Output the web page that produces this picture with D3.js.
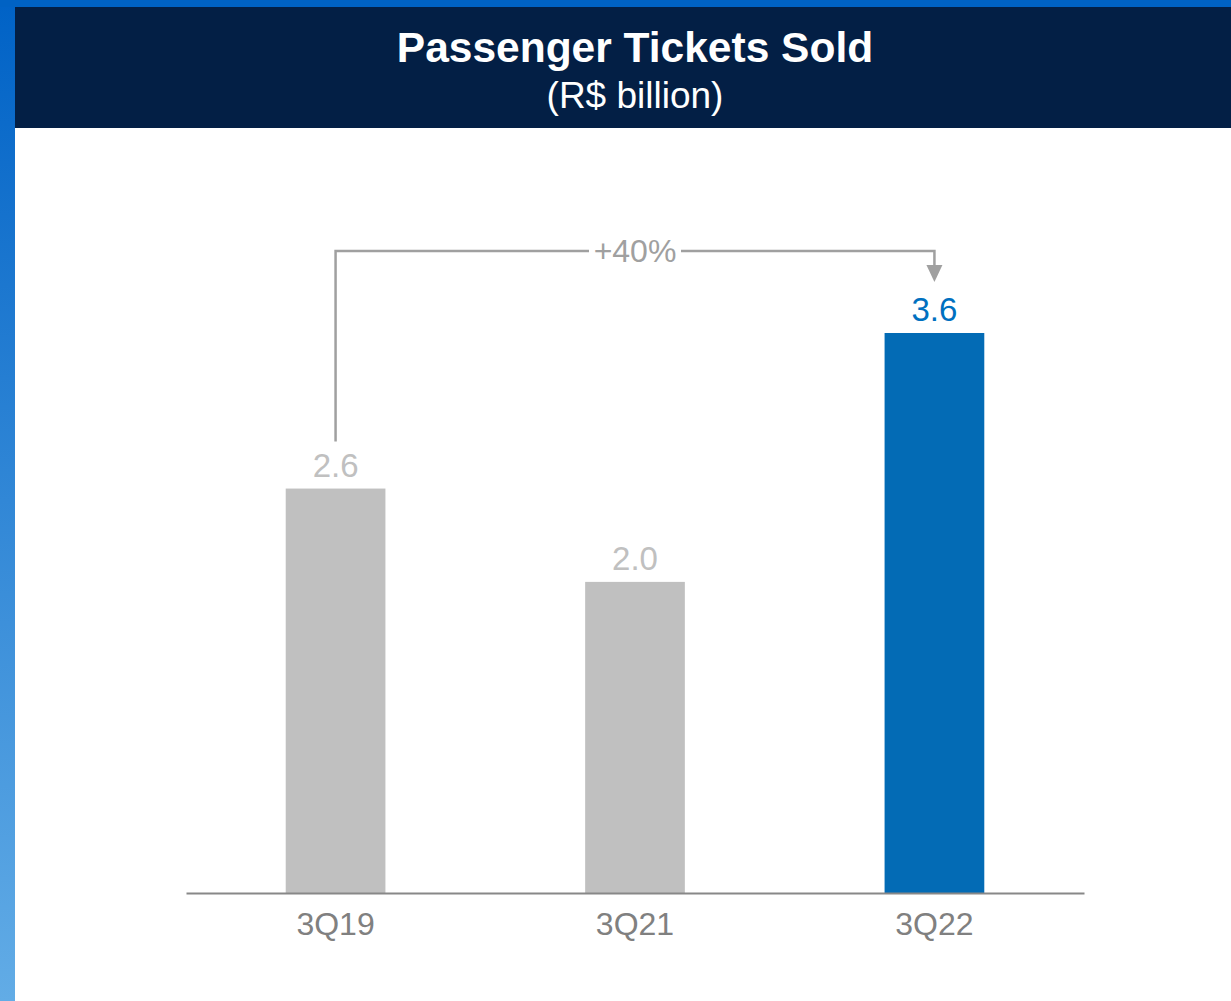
<!DOCTYPE html>
<html>
<head>
<meta charset="utf-8">
<script src="https://cdn.jsdelivr.net/npm/d3@7"></script>
<style>
  html, body { margin: 0; padding: 0; background: #ffffff; }
  svg { display: block; }
</style>
</head>
<body>
<script>
// Quarterly passenger tickets sold, R$ billion
const categories = ["3Q19", "3Q21", "3Q22"];
const values = [2.6, 2.0, 3.6];
const valueLabels = ["2.6", "2.0", "3.6"];
const growthLabel = "+40%";

const W = 1231, H = 1001;
const FONT = "Liberation Sans, Arial, sans-serif";
const svg = d3.select("body").append("svg").attr("width", W).attr("height", H);

// Page frame: blue gradient side strip, top strip and navy header
const defs = svg.append("defs");
const grad = defs.append("linearGradient").attr("id", "sideGrad")
  .attr("x1", 0).attr("y1", 0).attr("x2", 0).attr("y2", 1);
grad.append("stop").attr("offset", "0%").attr("stop-color", "#0062c6");
grad.append("stop").attr("offset", "100%").attr("stop-color", "#62ace6");

svg.append("rect").attr("x", 0).attr("y", 0).attr("width", 15).attr("height", H).attr("fill", "url(#sideGrad)");
svg.append("rect").attr("x", 0).attr("y", 0).attr("width", W).attr("height", 7).attr("fill", "#0062c4");
svg.append("rect").attr("x", 15).attr("y", 7).attr("width", W - 15).attr("height", 121).attr("fill", "#031f45");

svg.append("text").attr("x", 635).attr("y", 62).attr("text-anchor", "middle")
  .attr("font-family", FONT).attr("font-weight", "bold")
  .attr("font-size", 42.5).attr("fill", "#ffffff").text("Passenger Tickets Sold");
svg.append("text").attr("x", 635).attr("y", 108).attr("text-anchor", "middle")
  .attr("font-family", FONT)
  .attr("font-size", 37).attr("fill", "#ffffff").text("(R$ billion)");

// Chart area
const x = d3.scaleBand().domain(categories).range([186, 1084]).paddingInner(0.667).paddingOuter(0.333);
const y = d3.scaleLinear().domain([0, 3.6]).range([893, 333]);

const barColors = ["#c0c0c0", "#c0c0c0", "#036bb5"];
const labelColors = ["#c0c0c0", "#c0c0c0", "#0070c0"];

svg.append("g").selectAll("rect").data(values).join("rect")
  .attr("x", (d, i) => x(categories[i]))
  .attr("y", d => y(d))
  .attr("width", x.bandwidth())
  .attr("height", d => y(0) - y(d))
  .attr("fill", (d, i) => barColors[i]);

svg.append("g").selectAll("text").data(values).join("text")
  .attr("x", (d, i) => x(categories[i]) + x.bandwidth() / 2)
  .attr("y", d => y(d) - 12)
  .attr("text-anchor", "middle")
  .attr("font-family", FONT)
  .attr("font-size", 33)
  .attr("fill", (d, i) => labelColors[i])
  .text((d, i) => valueLabels[i]);

// Baseline axis with category labels
const axis = svg.append("g").attr("transform", `translate(0,${y(0)})`)
  .call(d3.axisBottom(x).tickSize(0).tickPadding(0));
axis.select(".domain").attr("stroke", "#888888").attr("stroke-width", 2);
axis.selectAll("text")
  .attr("font-family", FONT)
  .attr("font-size", 32)
  .attr("fill", "#808080")
  .attr("y", 42)
  .attr("dy", 0);

// Growth bracket from 3Q19 to 3Q22
const x0 = x("3Q19") + x.bandwidth() / 2;
const x1 = x("3Q22") + x.bandwidth() / 2;
const yTop = 251;
const yStart = y(values[0]) - 47;
const labelX = (x0 + x1) / 2;
const gapHalf = 46;
const br = svg.append("g").attr("fill", "none").attr("stroke", "#a0a0a0").attr("stroke-width", 2.5);
br.append("path").attr("d", `M${x0},${yStart}V${yTop}H${labelX - gapHalf}`);
br.append("path").attr("d", `M${labelX + gapHalf},${yTop}H${x1}V${266}`);
svg.append("path").attr("d", `M${x1 - 8},${265}L${x1 + 8},${265}L${x1},${282}Z`).attr("fill", "#a0a0a0");
svg.append("text").attr("x", labelX).attr("y", 262).attr("text-anchor", "middle")
  .attr("font-family", FONT)
  .attr("font-size", 32).attr("fill", "#a0a0a0").text(growthLabel);
</script>
</body>
</html>
